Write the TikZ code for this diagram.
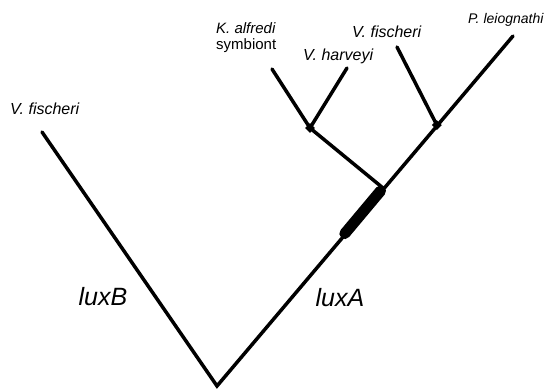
\documentclass[tikz,border=0pt]{standalone}
\usepackage{fontspec}
\setmainfont{Liberation Sans}
\usetikzlibrary{calc}
\tikzset{branch/.style={
    line width=3.5pt,
    line cap=round
  },
  genebar/.style={line width=11pt,line cap=round},
  knot/.style={rectangle,fill=black,minimum size=7pt,inner sep=0pt,rotate=45},
  taxon/.style={font=\fontsize{16}{18}\selectfont\itshape,inner sep=0pt,anchor=west},
  genelabel/.style={font=\fontsize{25}{28}\selectfont\itshape,inner sep=0pt},
}
\begin{document}
\begin{tikzpicture}[x=1pt,y=-1pt]
  \useasboundingbox (0,0) rectangle (550,391);
  \coordinate (root) at (217,386);
  \coordinate (vfl) at (42,132);
  \coordinate (lux) at (383,188);
  \coordinate (pl) at (513,36);
  \coordinate (vfr) at (397,47);
  \coordinate (kv) at (310,128);
  \coordinate (ka) at (272,69);
  \coordinate (vh) at (347,68);
  \coordinate (fp) at ($(lux)!0.414!(pl)$);
  \draw[branch] (vfl) -- (root) -- (pl);
  \draw[branch] (lux) -- (kv);
  \draw[branch] (ka) -- (kv) -- (vh);
  \draw[branch] (vfr) -- (fp);
  \draw[genebar] ($(root)!0.77!(lux)$) -- ($(root)!0.985!(lux)$);
  \node[knot] (kvk) at (kv) {};
  \node[knot] (fpk) at (fp) {};
  \node[taxon] (tvfl) at (10,109) {V. fischeri};
  \node[taxon,font=\fontsize{15}{17}\selectfont\itshape] (tka) at (216,28) {K. alfredi};
  \node[taxon,font=\fontsize{15}{17}\selectfont] (tsym) at (216,46) {symbiont};
  \node[taxon] (tvh) at (303,56) {V. harveyi};
  \node[taxon] (tvfr) at (352,32) {V. fischeri};
  \node[taxon,font=\fontsize{14}{16}\selectfont\itshape] (tpl) at (468,20) {P. leiognathi};
  \node[genelabel] (luxb) at (103,297) {luxB};
  \node[genelabel] (luxa) at (340,298) {luxA};
\end{tikzpicture}
\end{document}
